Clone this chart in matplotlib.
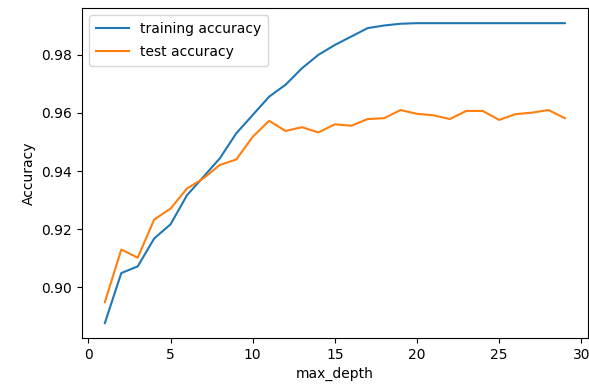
import numpy as np
import matplotlib.pyplot as plt

depths = list(range(1, 30))
train_acc = [0.8877, 0.9049, 0.9072, 0.9168, 0.9217, 0.9317, 0.9380, 0.9444,
             0.9530, 0.9593, 0.9656, 0.9697, 0.9754, 0.9800, 0.9834, 0.9863,
             0.9892, 0.9901, 0.9907, 0.9909, 0.9909, 0.9909, 0.9909, 0.9909,
             0.9909, 0.9909, 0.9909, 0.9909, 0.9909]
test_acc = [0.8949, 0.9130, 0.9102, 0.9233, 0.9271, 0.9340, 0.9375, 0.9421,
            0.9440, 0.9518, 0.9573, 0.9538, 0.9551, 0.9533, 0.9561, 0.9556,
            0.9579, 0.9582, 0.9610, 0.9597, 0.9592, 0.9579, 0.9607, 0.9607,
            0.9576, 0.9596, 0.9601, 0.9610, 0.9582]

fig = plt.figure(figsize=(5.89, 3.89), dpi=100)
ax = fig.add_axes([0.139, 0.131, 0.859, 0.848])
ax.plot(depths, train_acc, label="training accuracy")
ax.plot(depths, test_acc, label="test accuracy")
ax.set_xlabel("max_depth")
ax.set_ylabel("Accuracy")
ax.legend(loc="upper left", handlelength=2.4, labelspacing=0.65, borderpad=0.5)
fig.savefig("out.png")
